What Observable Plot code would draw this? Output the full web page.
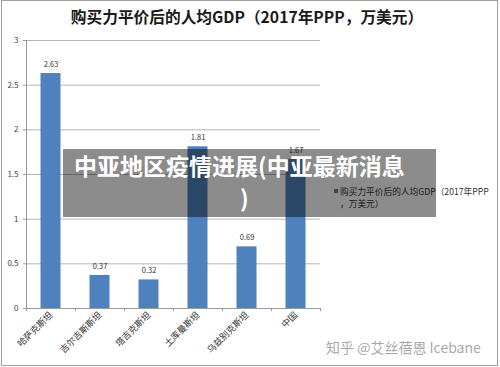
<!DOCTYPE html>
<html><head><meta charset="utf-8">
<script src="https://cdn.jsdelivr.net/npm/d3@7"></script>
<script src="https://cdn.jsdelivr.net/npm/@observablehq/plot@0.6"></script>
<style>
body{margin:0;background:#fff;}
#wrap{position:relative;width:500px;height:367px;overflow:hidden;font-family:"Noto Sans CJK SC","Noto Sans",sans-serif;}
#wrap svg{position:absolute;left:0;top:0;}
.abs{position:absolute;white-space:nowrap;}
</style></head>
<body>
<div id="wrap"></div>
<script>
const title = "购买力平价后的人均GDP（2017年PPP，万美元）";
const categories = ["哈萨克斯坦","吉尔吉斯斯坦","塔吉克斯坦","土库曼斯坦","乌兹别克斯坦","中国"];
const values = [2.63, 0.37, 0.32, 1.81, 0.69, 1.67];
const yTicks = [0, 0.5, 1, 1.5, 2, 2.5, 3];
const legendLines = ["购买力平价后的人均GDP（2017年PPP", "，万美元）"];
const overlayLines = ["中亚地区疫情进展(中亚最新消息", ")"];
const watermark = "知乎 @艾丝蓓恩 Icebane";

const data = categories.map((c, i) => ({cat: c, v: values[i]}));
const W = 500, H = 367, mL = 26, mR = 180, mT = 40, mB = 59;
const step = (W - mL - mR) / categories.length;

const plot = Plot.plot({
  width: W, height: H,
  marginLeft: mL, marginRight: mR, marginTop: mT, marginBottom: mB,
  style: {fontFamily: "'Noto Sans CJK SC','Noto Sans',sans-serif", background: "transparent"},
  x: {domain: categories, padding: 0, label: null},
  y: {domain: [0, 3], label: null},
  marks: [
    Plot.gridY(yTicks.filter(d => d > 0), {stroke: "#b5b5b5", strokeOpacity: 1}),
    Plot.barY(data, {x: "cat", y: "v", fill: "#4f81bd", insetLeft: 14.5, insetRight: 14.5}),
    Plot.text(data, {x: "cat", y: "v", text: d => d.v.toFixed(2), dy: -9, fontSize: 7.5, fill: "#333"}),
    Plot.ruleY([0], {stroke: "#999"}),
    Plot.ruleX([categories[0]], {y1: 0, y2: 3, dx: -step / 2, stroke: "#999"}),
    Plot.ruleX(categories, {y1: 0, y2: -0.035, dx: -step / 2, stroke: "#999"}),
    Plot.ruleX([categories[categories.length - 1]], {y1: 0, y2: -0.035, dx: step / 2, stroke: "#999"}),
    Plot.axisY(yTicks, {tickSize: 3, tickPadding: 5, fontSize: 8, fill: "#444", stroke: "#999", tickFormat: d => String(d)}),
    Plot.axisX({tickSize: 0, tickPadding: 5, tickRotate: -45, fontSize: 9, fill: "#333", label: null})
  ]
});

const wrap = document.getElementById("wrap");
wrap.appendChild(plot);

function addDiv(text, css) {
  const d = document.createElement("div");
  d.className = "abs";
  d.textContent = text;
  Object.assign(d.style, css);
  wrap.appendChild(d);
  return d;
}

// title
addDiv(title, {left: "0px", width: "494px", top: "6px", textAlign: "center", fontSize: "15.7px", fontWeight: "bold", color: "#1a1a1a", lineHeight: "22px"});

// legend
const mk = document.createElement("div");
mk.className = "abs";
Object.assign(mk.style, {left: "334px", top: "189px", width: "4px", height: "4px", background: "#4f81bd"});
wrap.appendChild(mk);
addDiv(legendLines[0], {left: "340px", top: "185px", fontSize: "8.7px", color: "#333", lineHeight: "13px"});
addDiv(legendLines[1], {left: "340px", top: "197px", fontSize: "8.7px", color: "#333", lineHeight: "13px"});

// overlay
const ov = document.createElement("div");
ov.className = "abs";
Object.assign(ov.style, {left: "63px", top: "149px", width: "373px", height: "68px", background: "rgba(0,0,0,0.45)"});
wrap.appendChild(ov);
addDiv(overlayLines[0], {left: "74px", top: "150px", fontSize: "23px", fontWeight: "bold", color: "#fff", lineHeight: "31px"});
addDiv(overlayLines[1], {left: "240px", top: "182px", fontSize: "23px", fontWeight: "bold", color: "#fff", lineHeight: "31px"});

// watermark
addDiv(watermark, {left: "326px", top: "337px", fontSize: "14px", color: "rgba(150,150,150,0.85)", lineHeight: "20px"});

// frame border
const fr = document.createElement("div");
fr.className = "abs";
Object.assign(fr.style, {left: "1px", top: "0px", width: "495px", height: "364px", border: "1px solid #a0a0a0"});
wrap.appendChild(fr);
</script>
</body></html>
